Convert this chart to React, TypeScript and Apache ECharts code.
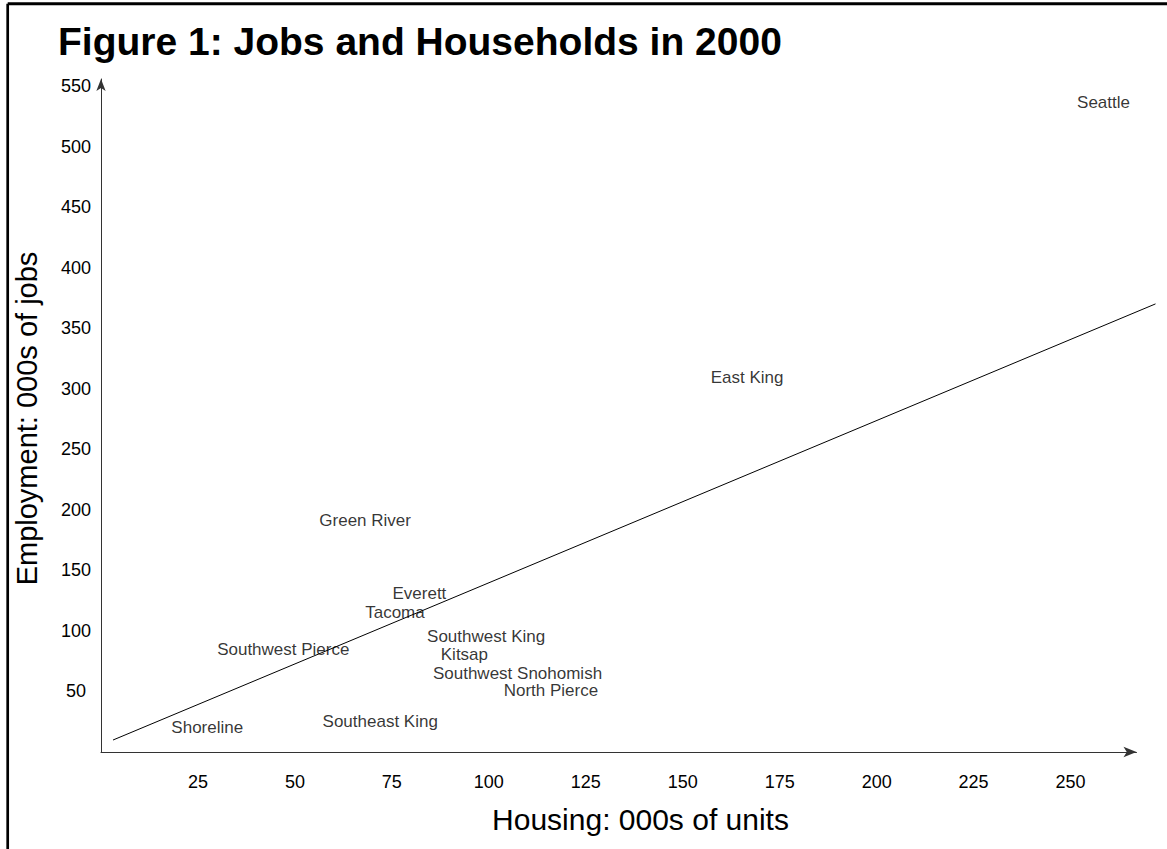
import React, { useEffect, useRef } from "react";
import * as echarts from "echarts";

const regions = [
  "Seattle",
  "East King",
  "Green River",
  "Everett",
  "Tacoma",
  "Southwest King",
  "Kitsap",
  "Southwest Snohomish",
  "North Pierce",
  "Southeast King",
  "Southwest Pierce",
  "Shoreline",
];
const housing = [258.5, 166.6, 68.1, 82.1, 75.8, 99.3, 93.7, 107.4, 116, 72, 47, 27.4];
const jobs = [536.4, 309.7, 190.9, 130.6, 115.5, 95.3, 80.2, 65, 50.4, 25, 84.9, 20.4];

const trendHousing = [3.1, 271.9];
const trendJobs = [9.9, 370.2];

const xTicks = [25, 50, 75, 100, 125, 150, 175, 200, 225, 250];
const yTicks = [50, 100, 150, 200, 250, 300, 350, 400, 450, 500, 550];

const titleText = "Figure 1: Jobs and Households in 2000";
const xName = "Housing: 000s of units";
const yName = "Employment: 000s of jobs";

const FONT = '"Liberation Sans", Arial, Helvetica, sans-serif';

// axis extents
const X_MAX = 267;
const X_MAX_TREND = 271.9;
const Y_MAX = 556;

export default function App() {
  const ref = useRef<HTMLDivElement>(null);

  useEffect(() => {
    if (!ref.current) return;
    const chart = echarts.init(ref.current, null, { renderer: "svg" });

    const points = regions.map((name, i) => ({ name, value: [housing[i], jobs[i]] }));
    const trend = trendHousing.map((x, i) => [x, trendJobs[i]]);

    const gridLeft = 101;
    const gridRight = 30.5;
    const width = 1167;
    const pxPerUnit = (width - gridLeft - gridRight) / X_MAX;
    const trendRight = width - gridLeft - X_MAX_TREND * pxPerUnit;

    chart.setOption({
      animation: false,
      backgroundColor: "#ffffff",
      textStyle: { fontFamily: FONT },
      grid: [
        { left: gridLeft, right: gridRight, top: 79, bottom: 97, containLabel: false },
        { left: gridLeft, right: trendRight, top: 79, bottom: 97, containLabel: false },
      ],
      xAxis: [
        {
          type: "value",
          gridIndex: 0,
          min: 0,
          max: X_MAX,
          interval: 25,
          axisLine: {
            show: true,
            symbol: ["none", "arrow"],
            symbolSize: [8, 13],
            lineStyle: { color: "#333333", width: 1 },
          },
          axisTick: { show: false },
          splitLine: { show: false },
          axisLabel: {
            margin: 21,
            fontSize: 18,
            color: "#000000",
            fontFamily: FONT,
            formatter: (v: number) => (xTicks.includes(v) ? String(v) : ""),
          },
        },
        {
          type: "value",
          gridIndex: 1,
          min: 0,
          max: X_MAX_TREND,
          show: false,
        },
      ],
      yAxis: [
        {
          type: "value",
          gridIndex: 0,
          min: 0,
          max: Y_MAX,
          interval: 50,
          axisLine: {
            show: true,
            symbol: ["none", "arrow"],
            symbolSize: [7, 12],
            lineStyle: { color: "#333333", width: 1 },
          },
          axisTick: { show: false },
          splitLine: { show: false },
          axisLabel: {
            margin: 25,
            align: "center",
            fontSize: 18,
            color: "#000000",
            fontFamily: FONT,
            formatter: (v: number) => (yTicks.includes(v) ? String(v) : ""),
          },
        },
        {
          type: "value",
          gridIndex: 1,
          min: 0,
          max: Y_MAX,
          show: false,
        },
      ],
      series: [
        {
          type: "line",
          xAxisIndex: 1,
          yAxisIndex: 1,
          data: trend,
          symbol: "none",
          clip: false,
          silent: true,
          lineStyle: { color: "#000000", width: 1 },
        },
        {
          type: "scatter",
          xAxisIndex: 0,
          yAxisIndex: 0,
          data: points,
          symbolSize: 1,
          itemStyle: { color: "rgba(255,255,255,0)" },
          silent: true,
          label: {
            show: true,
            position: "inside",
            formatter: (p: any) => p.name,
            color: "#000000",
            textBorderWidth: 0,
            textBorderColor: "transparent",
            fontSize: 17,
            fontFamily: FONT,
          },
        },
      ],
      graphic: [
        {
          type: "line",
          shape: { x1: 7.7, y1: 3.7, x2: 1167, y2: 3.7 },
          style: { stroke: "#000000", lineWidth: 3 },
        },
        {
          type: "line",
          shape: { x1: 7.7, y1: 3.7, x2: 7.7, y2: 849 },
          style: { stroke: "#000000", lineWidth: 2.7 },
        },
        {
          type: "text",
          x: 58,
          y: 41,
          style: {
            text: titleText,
            font: `bold 39px ${FONT}`,
            fill: "#000000",
            align: "left",
            verticalAlign: "middle",
          },
        },
        {
          type: "text",
          x: 640.5,
          y: 819,
          style: {
            text: xName,
            font: `30px ${FONT}`,
            fill: "#000000",
            align: "center",
            verticalAlign: "middle",
          },
        },
        {
          type: "text",
          x: 27,
          y: 418.5,
          rotation: Math.PI / 2,
          style: {
            text: yName,
            font: `29px ${FONT}`,
            fill: "#000000",
            align: "center",
            verticalAlign: "middle",
          },
        },
      ],
    });

    return () => chart.dispose();
  }, []);

  return (
    <div
      ref={ref}
      style={{ position: "fixed", left: 0, top: 0, width: 1167, height: 849, background: "#ffffff" }}
    />
  );
}
